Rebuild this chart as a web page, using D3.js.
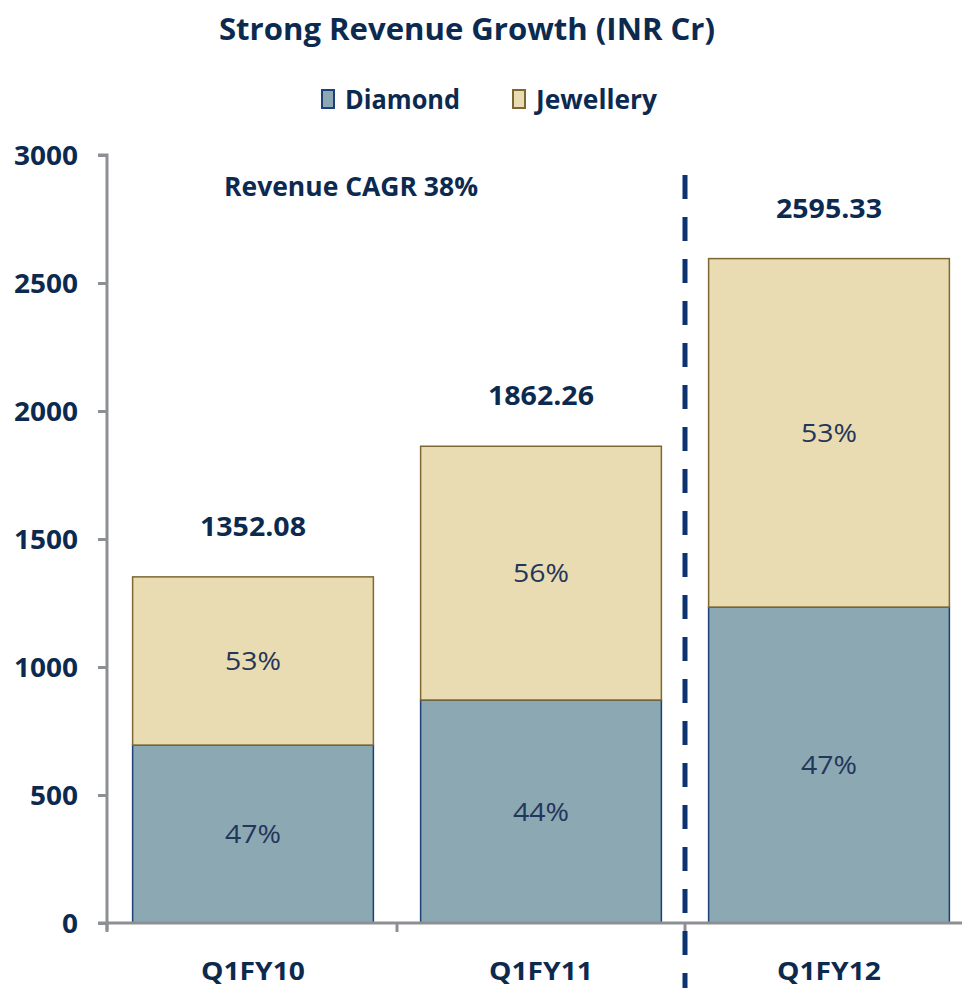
<!DOCTYPE html>
<html>
<head>
<meta charset="utf-8">
<script src="https://cdn.jsdelivr.net/npm/d3@7"></script>
<style>
  html, body { margin: 0; padding: 0; background: #ffffff; }
  svg { display: block; }
  text { font-family: "Open Sans", "Noto Sans", sans-serif; }
</style>
</head>
<body>
<svg id="chart" width="962" height="988"></svg>
<script>
// ---- data ----
const categories = ["Q1FY10", "Q1FY11", "Q1FY12"];
const seriesNames = ["Diamond", "Jewellery"];
const diamondValues = [695, 871, 1234];
const jewelleryValues = [657.08, 991.26, 1361.33];
const totals = [1352.08, 1862.26, 2595.33];
const diamondLabels = ["47%", "44%", "47%"];
const jewelleryLabels = ["53%", "56%", "53%"];
const yTicks = [0, 500, 1000, 1500, 2000, 2500, 3000];
const titleText = "Strong Revenue Growth (INR Cr)";
const annotationText = "Revenue CAGR 38%";

const navy = "#0c2a50";
const fills = { Diamond: "#8ba8b3", Jewellery: "#eadcb2" };
const strokes = { Diamond: "#1c4179", Jewellery: "#7d6732" };

const svg = d3.select("#chart");

const x = d3.scaleBand().domain(categories).range([109, 973])
  .paddingInner(0.164).paddingOuter(0.082);
const y = d3.scaleLinear().domain([0, 3000]).range([923, 155]);

// title
svg.append("text").attr("x", 467).attr("y", 40)
  .attr("text-anchor", "middle").attr("font-size", 31).attr("font-weight", 700)
  .attr("fill", navy).attr("textLength", 496).attr("lengthAdjust", "spacingAndGlyphs")
  .text(titleText);

// legend
const legendItems = [
  { name: "Diamond", sx: 322, tx: 345, tw: 115 },
  { name: "Jewellery", sx: 513, tx: 536, tw: 121 }
];
legendItems.forEach(d => {
  svg.append("rect").attr("x", d.sx).attr("y", 90).attr("width", 12).attr("height", 18)
    .attr("fill", fills[d.name]).attr("stroke", strokes[d.name]).attr("stroke-width", 2);
  svg.append("text").attr("x", d.tx).attr("y", 109)
    .attr("font-size", 26).attr("font-weight", 700).attr("fill", navy)
    .attr("textLength", d.tw).attr("lengthAdjust", "spacingAndGlyphs")
    .text(d.name);
});

// stacked data
const rows = categories.map((c, i) => ({ cat: c, Diamond: diamondValues[i], Jewellery: jewelleryValues[i] }));
const stack = d3.stack().keys(seriesNames)(rows);

const gBars = svg.append("g");
stack.forEach(layer => {
  const key = layer.key;
  gBars.selectAll(null).data(layer).enter().append("rect")
    .attr("x", d => x(d.data.cat))
    .attr("width", x.bandwidth())
    .attr("y", d => y(d[1]))
    .attr("height", d => y(d[0]) - y(d[1]))
    .attr("fill", fills[key])
    .attr("stroke", strokes[key])
    .attr("stroke-width", 1.5);
});

// percentage labels
const pctLabels = { Diamond: diamondLabels, Jewellery: jewelleryLabels };
stack.forEach(layer => {
  svg.selectAll(null).data(layer).enter().append("text")
    .attr("x", d => x(d.data.cat) + x.bandwidth() / 2)
    .attr("y", d => (y(d[0]) + y(d[1])) / 2 + 9)
    .attr("text-anchor", "middle").attr("font-size", 25)
    .attr("fill", "#24365a")
    .attr("textLength", 56).attr("lengthAdjust", "spacingAndGlyphs")
    .text((d, i) => pctLabels[layer.key][i]);
});

// axes
const axisColor = "#8e8f94";
const yAxis = svg.append("g").attr("transform", "translate(107,0)")
  .call(d3.axisLeft(y).tickValues(yTicks).tickSize(9).tickPadding(20).tickFormat(d3.format("d")));
yAxis.select(".domain").attr("stroke", axisColor).attr("stroke-width", 3)
  .attr("d", "M-9,155H0V930");
yAxis.selectAll(".tick line").attr("stroke", axisColor).attr("stroke-width", 3);
yAxis.selectAll(".tick text").attr("font-size", 26).attr("font-weight", 700)
  .attr("fill", navy).attr("font-family", "'Open Sans', sans-serif")
  .attr("dy", "0.36em")
  .attr("textLength", d => String(d).length * 16).attr("lengthAdjust", "spacingAndGlyphs");

const xAxis = svg.append("g").attr("transform", "translate(0,923)");
xAxis.append("line").attr("x1", 98).attr("x2", 962).attr("y1", 0).attr("y2", 0)
  .attr("stroke", axisColor).attr("stroke-width", 3);
const boundaries = [107, ...categories.slice(1).map(c => x(c) - x.step() * x.paddingInner() / 2)];
xAxis.selectAll(null).data(boundaries).enter().append("line")
  .attr("x1", d => d).attr("x2", d => d).attr("y1", 0).attr("y2", 9)
  .attr("stroke", axisColor).attr("stroke-width", 3);
xAxis.selectAll(null).data(categories).enter().append("text")
  .attr("x", d => x(d) + x.bandwidth() / 2).attr("y", 57)
  .attr("text-anchor", "middle").attr("font-size", 25).attr("font-weight", 700)
  .attr("fill", navy).attr("textLength", 104).attr("lengthAdjust", "spacingAndGlyphs")
  .text(d => d);

// dashed separator
const sepX = boundaries[2];
svg.append("line").attr("x1", sepX).attr("x2", sepX).attr("y1", 175).attr("y2", 988)
  .attr("stroke", "#0c3370").attr("stroke-width", 5).attr("stroke-dasharray", "24,18");

// totals
svg.selectAll(null).data(categories).enter().append("text")
  .attr("x", d => x(d) + x.bandwidth() / 2)
  .attr("y", (d, i) => y(totals[i]) - 41)
  .attr("text-anchor", "middle").attr("font-size", 26).attr("font-weight", 700)
  .attr("fill", navy).attr("textLength", 106).attr("lengthAdjust", "spacingAndGlyphs")
  .text((d, i) => totals[i].toFixed(2));

// annotation
svg.append("text").attr("x", 351).attr("y", 196)
  .attr("text-anchor", "middle").attr("font-size", 26).attr("font-weight", 700)
  .attr("fill", navy).attr("textLength", 254).attr("lengthAdjust", "spacingAndGlyphs")
  .text(annotationText);
</script>
</body>
</html>
